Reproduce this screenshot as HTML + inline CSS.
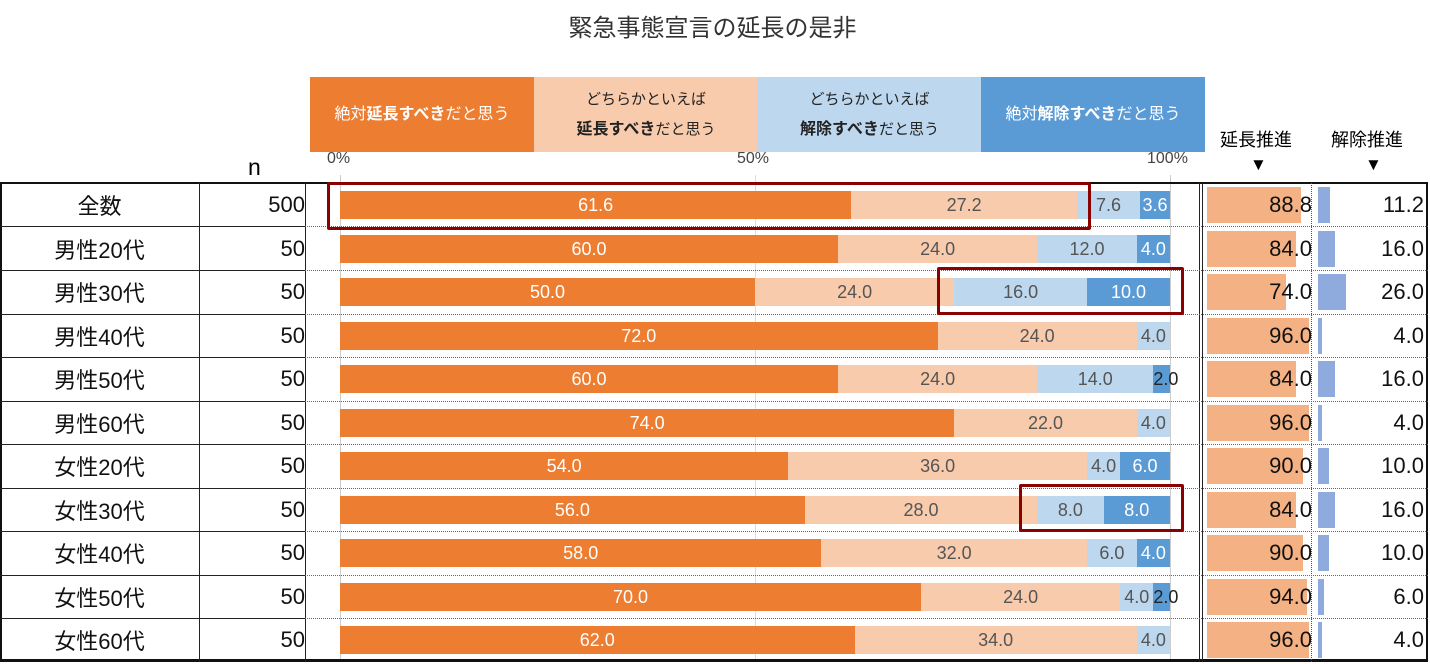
<!DOCTYPE html>
<html><head><meta charset="utf-8"><style>
body{margin:0;width:1430px;height:664px;background:#fff;position:relative;overflow:hidden;font-family:"Liberation Sans","Noto Sans CJK JP",sans-serif;}
.a{position:absolute}
.title{left:0;width:1425px;top:8px;text-align:center;font-size:24px;color:#333}
.lg{top:77px;height:75px;display:flex;align-items:center;justify-content:center;text-align:center;font-size:16px;line-height:30px}
.lg span{display:block}
.tick{top:150px;font-size:16px;color:#444}
.row{left:0;width:1430px;height:44px}
.c1{position:absolute;left:0;width:199px;height:100%;display:flex;align-items:center;justify-content:center;font-size:22px;color:#111}
.c2{position:absolute;left:199px;width:106px;height:100%;display:flex;align-items:center;justify-content:flex-end;font-size:22px;color:#111}
.bar{position:absolute;left:340px;width:830px;top:8px;height:28px;display:flex}
.bar div{height:100%;display:flex;align-items:center;justify-content:center;font-size:18px;white-space:nowrap;overflow:visible}
.s1{background:#ed7d31;color:#fff}.s2{background:#f8cbad;color:#555}.s3{background:#bdd7ee;color:#555}.s4{background:#5b9bd5;color:#fff}
.eb{position:absolute;left:1207px;top:4px;height:36px;background:#f4b183}
.kb{position:absolute;left:1318px;top:4px;height:36px;background:#8faadc}
.ev{position:absolute;left:1206px;width:106px;height:100%;display:flex;align-items:center;justify-content:flex-end;font-size:22px;color:#111}
.kv{position:absolute;left:1315px;width:109px;height:100%;display:flex;align-items:center;justify-content:flex-end;font-size:22px;color:#111}
.hl{position:absolute;left:0;width:305px;border-top:1.5px solid #222}
.dl{position:absolute;left:305px;width:1123px;border-top:1px dotted #666}
.red{position:absolute;border:3px solid #8b0000;border-radius:2px}
</style></head><body>
<div class="a title">緊急事態宣言の延長の是非</div>
<div class="a lg" style="left:310px;width:224px;background:#ed7d31;color:#fff"><span>絶対<b>延長すべき</b>だと思う</span></div>
<div class="a lg" style="left:534px;width:224px;background:#f8cbad;color:#222;font-size:15px"><span>どちらかといえば<br><b style="font-size:16px">延長すべき</b>だと思う</span></div>
<div class="a lg" style="left:758px;width:223px;background:#bdd7ee;color:#222;font-size:15px"><span>どちらかといえば<br><b style="font-size:16px">解除すべき</b>だと思う</span></div>
<div class="a lg" style="left:981px;width:224px;background:#5b9bd5;color:#fff"><span>絶対<b>解除すべき</b>だと思う</span></div>
<div class="a tick" style="left:327px">0%</div>
<div class="a tick" style="left:737px">50%</div>
<div class="a tick" style="left:1147px">100%</div>
<div class="a" style="left:248px;top:154px;font-size:23px">n</div>
<div class="a" style="left:1220px;top:126px;font-size:18px">延長推進</div>
<div class="a" style="left:1331px;top:126px;font-size:18px">解除推進</div>
<div class="a" style="left:1250px;top:155px;font-size:17px">▼</div>
<div class="a" style="left:1365px;top:155px;font-size:17px">▼</div>
<div class="a" style="left:340px;top:175px;width:1px;height:487px;background:#ccc"></div>
<div class="a" style="left:755px;top:175px;width:1px;height:487px;background:#ddd"></div>
<div class="a" style="left:1170px;top:175px;width:1px;height:487px;background:#ccc"></div>
<div class="a" style="left:0;top:182px;width:1428px;height:480px;border:2px solid #111;box-sizing:border-box;border-bottom-width:3px"></div>
<div class="a" style="left:199px;top:183px;width:1px;height:479px;background:#222"></div>
<div class="a" style="left:305px;top:183px;width:1px;height:479px;background:#222"></div>
<div class="a" style="left:1199px;top:183px;width:4px;height:479px;border-left:1px solid #222;border-right:1px solid #222;box-sizing:border-box"></div>
<div class="a" style="left:1311px;top:183px;width:0;height:479px;border-left:1px dotted #555"></div>

<div class="a row" style="top:183px"><div class="c1">全数</div><div class="c2">500</div><div class="bar"><div class="s1" style="width:61.6%">61.6</div><div class="s2" style="width:27.2%">27.2</div><div class="s3" style="width:7.6%">7.6</div><div class="s4" style="width:3.6%">3.6</div></div><div class="eb" style="width:94px"></div><div class="ev">88.8</div><div class="kb" style="width:12px"></div><div class="kv">11.2</div></div>
<div class="hl" style="top:226px"></div><div class="dl" style="top:226px"></div>
<div class="a row" style="top:227px"><div class="c1">男性20代</div><div class="c2">50</div><div class="bar"><div class="s1" style="width:60%">60.0</div><div class="s2" style="width:24%">24.0</div><div class="s3" style="width:12%">12.0</div><div class="s4" style="width:4%">4.0</div></div><div class="eb" style="width:89px"></div><div class="ev">84.0</div><div class="kb" style="width:17px"></div><div class="kv">16.0</div></div>
<div class="hl" style="top:270px"></div><div class="dl" style="top:270px"></div>
<div class="a row" style="top:270px"><div class="c1">男性30代</div><div class="c2">50</div><div class="bar"><div class="s1" style="width:50%">50.0</div><div class="s2" style="width:24%">24.0</div><div class="s3" style="width:16%">16.0</div><div class="s4" style="width:10%">10.0</div></div><div class="eb" style="width:79px"></div><div class="ev">74.0</div><div class="kb" style="width:28px"></div><div class="kv">26.0</div></div>
<div class="hl" style="top:314px"></div><div class="dl" style="top:314px"></div>
<div class="a row" style="top:314px"><div class="c1">男性40代</div><div class="c2">50</div><div class="bar"><div class="s1" style="width:72%">72.0</div><div class="s2" style="width:24%">24.0</div><div class="s3" style="width:4%">4.0</div></div><div class="eb" style="width:102px"></div><div class="ev">96.0</div><div class="kb" style="width:4px"></div><div class="kv">4.0</div></div>
<div class="hl" style="top:357px"></div><div class="dl" style="top:357px"></div>
<div class="a row" style="top:357px"><div class="c1">男性50代</div><div class="c2">50</div><div class="bar"><div class="s1" style="width:60%">60.0</div><div class="s2" style="width:24%">24.0</div><div class="s3" style="width:14%">14.0</div><div class="s4" style="width:2%;justify-content:flex-start;color:#222">2.0</div></div><div class="eb" style="width:89px"></div><div class="ev">84.0</div><div class="kb" style="width:17px"></div><div class="kv">16.0</div></div>
<div class="hl" style="top:401px"></div><div class="dl" style="top:401px"></div>
<div class="a row" style="top:401px"><div class="c1">男性60代</div><div class="c2">50</div><div class="bar"><div class="s1" style="width:74%">74.0</div><div class="s2" style="width:22%">22.0</div><div class="s3" style="width:4%">4.0</div></div><div class="eb" style="width:102px"></div><div class="ev">96.0</div><div class="kb" style="width:4px"></div><div class="kv">4.0</div></div>
<div class="hl" style="top:444px"></div><div class="dl" style="top:444px"></div>
<div class="a row" style="top:444px"><div class="c1">女性20代</div><div class="c2">50</div><div class="bar"><div class="s1" style="width:54%">54.0</div><div class="s2" style="width:36%">36.0</div><div class="s3" style="width:4%">4.0</div><div class="s4" style="width:6%">6.0</div></div><div class="eb" style="width:96px"></div><div class="ev">90.0</div><div class="kb" style="width:11px"></div><div class="kv">10.0</div></div>
<div class="hl" style="top:488px"></div><div class="dl" style="top:488px"></div>
<div class="a row" style="top:488px"><div class="c1">女性30代</div><div class="c2">50</div><div class="bar"><div class="s1" style="width:56%">56.0</div><div class="s2" style="width:28%">28.0</div><div class="s3" style="width:8%">8.0</div><div class="s4" style="width:8%">8.0</div></div><div class="eb" style="width:89px"></div><div class="ev">84.0</div><div class="kb" style="width:17px"></div><div class="kv">16.0</div></div>
<div class="hl" style="top:531px"></div><div class="dl" style="top:531px"></div>
<div class="a row" style="top:531px"><div class="c1">女性40代</div><div class="c2">50</div><div class="bar"><div class="s1" style="width:58%">58.0</div><div class="s2" style="width:32%">32.0</div><div class="s3" style="width:6%">6.0</div><div class="s4" style="width:4%">4.0</div></div><div class="eb" style="width:96px"></div><div class="ev">90.0</div><div class="kb" style="width:11px"></div><div class="kv">10.0</div></div>
<div class="hl" style="top:575px"></div><div class="dl" style="top:575px"></div>
<div class="a row" style="top:575px"><div class="c1">女性50代</div><div class="c2">50</div><div class="bar"><div class="s1" style="width:70%">70.0</div><div class="s2" style="width:24%">24.0</div><div class="s3" style="width:4%">4.0</div><div class="s4" style="width:2%;justify-content:flex-start;color:#222">2.0</div></div><div class="eb" style="width:100px"></div><div class="ev">94.0</div><div class="kb" style="width:6px"></div><div class="kv">6.0</div></div>
<div class="hl" style="top:618px"></div><div class="dl" style="top:618px"></div>
<div class="a row" style="top:618px"><div class="c1">女性60代</div><div class="c2">50</div><div class="bar"><div class="s1" style="width:62%">62.0</div><div class="s2" style="width:34%">34.0</div><div class="s3" style="width:4%">4.0</div></div><div class="eb" style="width:102px"></div><div class="ev">96.0</div><div class="kb" style="width:4px"></div><div class="kv">4.0</div></div>

<div class="red" style="left:327px;top:182px;width:758px;height:42px"></div>
<div class="red" style="left:937px;top:267px;width:241px;height:42px"></div>
<div class="red" style="left:1019px;top:484px;width:159px;height:42px"></div>
</body></html>
